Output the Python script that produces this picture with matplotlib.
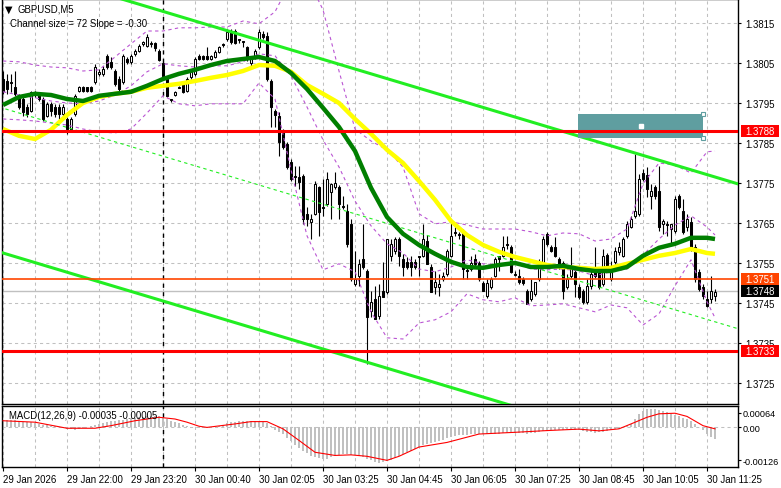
"""
GBPUSD M5 chart in the MetaTrader style: candles, moving averages,
Bollinger bands, regression channel, price levels and MACD panel.
"""

import matplotlib
matplotlib.use("Agg")
import matplotlib.pyplot as plt
from matplotlib.patches import Rectangle
import numpy as np

plt.rcParams["font.family"] = ["Liberation Sans", "DejaVu Sans"]

# ---------------- data ----------------
opens = [
    1.38010, 1.38005, 1.38003, 1.37990, 1.37968, 1.37960, 1.37940, 1.37930, 1.37978, 1.37973,
    1.37960, 1.37918, 1.37948, 1.37940, 1.37940, 1.37923, 1.37910, 1.37885, 1.37923, 1.37980,
    1.37990, 1.37990, 1.37990, 1.38003, 1.38023, 1.38023, 1.38068, 1.38053, 1.38030, 1.38010,
    1.38003, 1.38060, 1.38053, 1.38073, 1.38080, 1.38098, 1.38093, 1.38098, 1.38100, 1.38080,
    1.38050, 1.38010, 1.37960, 1.37970, 1.37990, 1.38000, 1.37980, 1.38015, 1.38023, 1.38068,
    1.38068, 1.38068, 1.38060, 1.38065, 1.38078, 1.38098, 1.38110, 1.38128, 1.38130, 1.38110,
    1.38105, 1.38090, 1.38050, 1.38065, 1.38090, 1.38123, 1.38118, 1.38005, 1.37930, 1.37918,
    1.37878, 1.37848, 1.37803, 1.37768, 1.37765, 1.37768, 1.37673, 1.37653, 1.37673, 1.37740,
    1.37690, 1.37698, 1.37728, 1.37740, 1.37740, 1.37693, 1.37680, 1.37648, 1.37498, 1.37518,
    1.37560, 1.37530, 1.37430, 1.37460, 1.37418, 1.37480, 1.37478, 1.37568, 1.37580, 1.37610,
    1.37560, 1.37553, 1.37553, 1.37553, 1.37568, 1.37568, 1.37605, 1.37540, 1.37490, 1.37490,
    1.37510, 1.37523, 1.37568, 1.37628, 1.37623, 1.37630, 1.37533, 1.37535, 1.37560, 1.37550,
    1.37500, 1.37468, 1.37490, 1.37518, 1.37568, 1.37568, 1.37598, 1.37590, 1.37523, 1.37518,
    1.37510, 1.37480, 1.37460, 1.37473, 1.37510, 1.37548, 1.37623, 1.37590, 1.37590, 1.37560,
    1.37550, 1.37490, 1.37518, 1.37528, 1.37490, 1.37480, 1.37453, 1.37493, 1.37528, 1.37528,
    1.37498, 1.37570, 1.37510, 1.37553, 1.37578, 1.37568, 1.37618, 1.37640, 1.37668, 1.37673,
    1.37775, 1.37770, 1.37718, 1.37740, 1.37730, 1.37648, 1.37648, 1.37635, 1.37630, 1.37718,
    1.37680, 1.37640, 1.37653, 1.37590, 1.37528, 1.37490, 1.37460, 1.37460, 1.37468,
]
highs = [
    1.38030, 1.38023, 1.38023, 1.38030, 1.37973, 1.37965, 1.37948, 1.37980, 1.37980, 1.37978,
    1.37965, 1.37953, 1.37953, 1.37948, 1.37948, 1.37948, 1.37915, 1.37915, 1.37973, 1.37993,
    1.37993, 1.37990, 1.37993, 1.38048, 1.38035, 1.38043, 1.38073, 1.38065, 1.38035, 1.38018,
    1.38073, 1.38065, 1.38073, 1.38085, 1.38098, 1.38105, 1.38123, 1.38105, 1.38103, 1.38085,
    1.38055, 1.38015, 1.37960, 1.37980, 1.37993, 1.38003, 1.38015, 1.38035, 1.38065, 1.38073,
    1.38070, 1.38090, 1.38070, 1.38083, 1.38093, 1.38100, 1.38135, 1.38135, 1.38135, 1.38110,
    1.38105, 1.38093, 1.38065, 1.38085, 1.38135, 1.38130, 1.38128, 1.38010, 1.37935, 1.37928,
    1.37885, 1.37853, 1.37810, 1.37793, 1.37793, 1.37773, 1.37690, 1.37673, 1.37755, 1.37743,
    1.37760, 1.37778, 1.37750, 1.37778, 1.37745, 1.37718, 1.37698, 1.37660, 1.37580, 1.37560,
    1.37648, 1.37535, 1.37480, 1.37493, 1.37498, 1.37553, 1.37610, 1.37610, 1.37615, 1.37615,
    1.37573, 1.37565, 1.37568, 1.37560, 1.37568, 1.37648, 1.37620, 1.37548, 1.37530, 1.37523,
    1.37528, 1.37585, 1.37660, 1.37640, 1.37628, 1.37635, 1.37543, 1.37568, 1.37573, 1.37555,
    1.37505, 1.37510, 1.37515, 1.37565, 1.37568, 1.37618, 1.37618, 1.37595, 1.37530, 1.37535,
    1.37515, 1.37485, 1.37510, 1.37503, 1.37560, 1.37618, 1.37628, 1.37595, 1.37615, 1.37565,
    1.37555, 1.37523, 1.37590, 1.37535, 1.37498, 1.37485, 1.37510, 1.37535, 1.37590, 1.37535,
    1.37585, 1.37575, 1.37555, 1.37590, 1.37603, 1.37615, 1.37655, 1.37668, 1.37823, 1.37773,
    1.37785, 1.37790, 1.37748, 1.37745, 1.37793, 1.37660, 1.37655, 1.37648, 1.37718, 1.37723,
    1.37710, 1.37673, 1.37665, 1.37598, 1.37535, 1.37498, 1.37480, 1.37518, 1.37485,
]
lows = [
    1.37973, 1.37973, 1.37978, 1.37968, 1.37935, 1.37918, 1.37915, 1.37928, 1.37965, 1.37955,
    1.37905, 1.37915, 1.37918, 1.37915, 1.37910, 1.37915, 1.37873, 1.37880, 1.37918, 1.37978,
    1.37978, 1.37978, 1.37978, 1.37998, 1.38018, 1.38018, 1.38035, 1.38035, 1.37993, 1.37980,
    1.37998, 1.38048, 1.38048, 1.38068, 1.38078, 1.38093, 1.38090, 1.38090, 1.38080, 1.38055,
    1.38015, 1.37965, 1.37953, 1.37968, 1.37988, 1.37975, 1.37978, 1.38010, 1.38018, 1.38058,
    1.38058, 1.38058, 1.38058, 1.38063, 1.38075, 1.38090, 1.38105, 1.38098, 1.38098, 1.38100,
    1.38090, 1.38055, 1.38040, 1.38060, 1.38085, 1.38110, 1.38005, 1.37890, 1.37890, 1.37818,
    1.37835, 1.37785, 1.37755, 1.37743, 1.37735, 1.37648, 1.37643, 1.37610, 1.37670, 1.37618,
    1.37668, 1.37693, 1.37660, 1.37735, 1.37660, 1.37685, 1.37590, 1.37505, 1.37493, 1.37493,
    1.37535, 1.37297, 1.37415, 1.37410, 1.37410, 1.37468, 1.37473, 1.37555, 1.37573, 1.37543,
    1.37518, 1.37535, 1.37518, 1.37535, 1.37518, 1.37565, 1.37548, 1.37478, 1.37473, 1.37468,
    1.37505, 1.37518, 1.37565, 1.37618, 1.37610, 1.37510, 1.37510, 1.37530, 1.37543, 1.37505,
    1.37480, 1.37463, 1.37485, 1.37515, 1.37530, 1.37565, 1.37585, 1.37525, 1.37518, 1.37498,
    1.37495, 1.37448, 1.37455, 1.37468, 1.37505, 1.37543, 1.37593, 1.37578, 1.37565, 1.37535,
    1.37460, 1.37485, 1.37513, 1.37465, 1.37460, 1.37448, 1.37448, 1.37485, 1.37513, 1.37485,
    1.37493, 1.37530, 1.37505, 1.37548, 1.37570, 1.37565, 1.37613, 1.37638, 1.37663, 1.37668,
    1.37755, 1.37715, 1.37685, 1.37710, 1.37630, 1.37623, 1.37618, 1.37598, 1.37625, 1.37685,
    1.37623, 1.37630, 1.37580, 1.37503, 1.37480, 1.37460, 1.37440, 1.37450, 1.37455,
]
closes = [
    1.37980, 1.37985, 1.38000, 1.37973, 1.37940, 1.37928, 1.37923, 1.37978, 1.37975, 1.37960,
    1.37910, 1.37948, 1.37930, 1.37923, 1.37923, 1.37940, 1.37885, 1.37910, 1.37968, 1.37990,
    1.37980, 1.37980, 1.37980, 1.38040, 1.38028, 1.38035, 1.38040, 1.38040, 1.37998, 1.37985,
    1.38068, 1.38053, 1.38068, 1.38080, 1.38093, 1.38103, 1.38115, 1.38100, 1.38088, 1.38058,
    1.38018, 1.37968, 1.37958, 1.37978, 1.37988, 1.37978, 1.38010, 1.38030, 1.38060, 1.38060,
    1.38060, 1.38060, 1.38068, 1.38078, 1.38090, 1.38095, 1.38128, 1.38103, 1.38100, 1.38108,
    1.38103, 1.38060, 1.38060, 1.38080, 1.38128, 1.38115, 1.38010, 1.37940, 1.37920, 1.37853,
    1.37840, 1.37790, 1.37760, 1.37765, 1.37753, 1.37660, 1.37660, 1.37660, 1.37748, 1.37678,
    1.37688, 1.37760, 1.37748, 1.37750, 1.37698, 1.37690, 1.37598, 1.37510, 1.37510, 1.37548,
    1.37540, 1.37415, 1.37453, 1.37410, 1.37468, 1.37465, 1.37610, 1.37598, 1.37610, 1.37568,
    1.37540, 1.37540, 1.37540, 1.37540, 1.37565, 1.37610, 1.37548, 1.37478, 1.37503, 1.37498,
    1.37518, 1.37580, 1.37618, 1.37625, 1.37620, 1.37535, 1.37530, 1.37550, 1.37548, 1.37510,
    1.37480, 1.37500, 1.37510, 1.37560, 1.37560, 1.37590, 1.37595, 1.37528, 1.37520, 1.37503,
    1.37500, 1.37448, 1.37480, 1.37503, 1.37540, 1.37610, 1.37598, 1.37580, 1.37568, 1.37540,
    1.37480, 1.37510, 1.37540, 1.37498, 1.37465, 1.37453, 1.37493, 1.37523, 1.37518, 1.37490,
    1.37568, 1.37535, 1.37540, 1.37580, 1.37590, 1.37610, 1.37648, 1.37660, 1.37680, 1.37760,
    1.37760, 1.37735, 1.37730, 1.37718, 1.37640, 1.37655, 1.37645, 1.37648, 1.37710, 1.37690,
    1.37628, 1.37660, 1.37585, 1.37510, 1.37485, 1.37468, 1.37443, 1.37480, 1.37478,
]

# indicator lines, read every 4 bars (bar index -> price)
ind_bars = list(range(0, 177, 4)) + [178]
ma_green = [
    1.37945, 1.37965, 1.37973, 1.37970, 1.37960, 1.37955, 1.37968, 1.37973, 1.37978, 1.37993,
    1.38010, 1.38023, 1.38033, 1.38045, 1.38055, 1.38060, 1.38065, 1.38055, 1.38025, 1.37985,
    1.37938, 1.37890, 1.37830, 1.37738, 1.37665, 1.37623, 1.37595, 1.37573, 1.37553, 1.37540,
    1.37538, 1.37545, 1.37550, 1.37540, 1.37540, 1.37543, 1.37535, 1.37530, 1.37530, 1.37540,
    1.37568, 1.37588, 1.37598, 1.37613, 1.37613, 1.37610,
]
ma_yellow = [
    1.37885, 1.37868, 1.37860, 1.37883, 1.37920, 1.37950, 1.37965, 1.37973, 1.37978, 1.37988,
    1.37993, 1.37998, 1.38005, 1.38013, 1.38020, 1.38030, 1.38045, 1.38043, 1.38028, 1.37995,
    1.37973, 1.37950, 1.37910, 1.37873, 1.37833, 1.37800, 1.37755, 1.37708, 1.37655, 1.37620,
    1.37595, 1.37578, 1.37565, 1.37555, 1.37545, 1.37540, 1.37538, 1.37535, 1.37538, 1.37548,
    1.37558, 1.37568, 1.37575, 1.37585, 1.37575, 1.37573,
]
band_upper = [
    1.38055, 1.38053, 1.38045, 1.38040, 1.38038, 1.38030, 1.38033, 1.38065, 1.38098, 1.38130,
    1.38130, 1.38138, 1.38138, 1.38140, 1.38140, 1.38155, 1.38148, 1.38178, 1.38255, 1.38265,
    1.38183, 1.38030, 1.37885, 1.37855, 1.37833, 1.37790, 1.37673, 1.37648, 1.37653, 1.37645,
    1.37635, 1.37635, 1.37635, 1.37628, 1.37618, 1.37625, 1.37623, 1.37605, 1.37610, 1.37635,
    1.37748, 1.37800, 1.37795, 1.37775, 1.37828, 1.37830,
]
band_middle = [
    1.37978, 1.37970, 1.37963, 1.37955, 1.37950, 1.37948, 1.37955, 1.37970, 1.37993, 1.38028,
    1.38048, 1.38043, 1.38040, 1.38043, 1.38043, 1.38053, 1.38073, 1.38068, 1.38018, 1.37940,
    1.37858, 1.37790, 1.37705, 1.37643, 1.37598, 1.37575, 1.37535, 1.37528, 1.37540, 1.37558,
    1.37548, 1.37545, 1.37550, 1.37535, 1.37533, 1.37535, 1.37530, 1.37518, 1.37528, 1.37535,
    1.37570, 1.37610, 1.37645, 1.37668, 1.37640, 1.37620,
]
band_lower = [
    1.37910, 1.37908, 1.37905, 1.37900, 1.37895, 1.37885, 1.37878, 1.37875, 1.37885, 1.37925,
    1.37968, 1.37948, 1.37943, 1.37948, 1.37948, 1.37948, 1.38000, 1.37960, 1.37783, 1.37618,
    1.37533, 1.37548, 1.37528, 1.37428, 1.37363, 1.37360, 1.37400, 1.37408, 1.37428, 1.37473,
    1.37458, 1.37453, 1.37463, 1.37443, 1.37445, 1.37448, 1.37438, 1.37428, 1.37445, 1.37438,
    1.37395, 1.37423, 1.37493, 1.37558, 1.37453, 1.37413,
]

# regression channel: middle at bar 0, slope per bar, half width
chan_mid0 = 1.37937
chan_slope = -0.00003
chan_half = 0.00362

# horizontal levels
level_res = 1.3788
level_sup = 1.3733
level_mid = 1.3751
level_bid = 1.3748

# MACD(12,26,9), in units of 1e-5
macd_hist = [
    27, 27, 26, 24, 23, 20, 19, 18, 14, 12, 9, 7, 5, 4, 2, -3, -5, -7, -8, -6,
    -2, 3, 6, 9, 12, 15, 18, 21, 23, 25, 27, 29, 31, 33, 35, 37, 39, 41, 41, 40,
    32, 29, 22, 18, 14, 8, 4, 2, 0, -2, -3, -2, -1, 0, 6, 10, 14, 18, 20, 22,
    23, 23, 22, 21, 20, 18, 14, 6, -8, -15, -22, -38, -48, -60, -70, -80, -90, -100, -104, -107,
    -109, -108, -104, -98, -94, -92, -93, -95, -97, -100, -103, -108, -114, -119, -122, -120, -116, -112, -106, -100,
    -92, -85, -80, -74, -68, -62, -57, -53, -50, -46, -42, -38, -34, -30, -27, -26, -25, -24, -22, -22,
    -22, -23, -24, -23, -22, -20, -18, -18, -19, -20, -21, -22, -21, -19, -16, -13, -11, -10, -10, -9,
    -8, -7, -7, -8, -10, -13, -15, -17, -18, -17, -15, -13, -10, -7, -4, -1, 6, 12, 30, 45,
    55, 62, 64, 64, 60, 56, 52, 47, 43, 38, 33, 28, 22, 12, 2, -10, -22, -32, -40,
]
sig_bars = [0, 8, 16, 23, 27, 33, 39, 43, 46, 49, 51, 58, 62, 66, 70, 74, 78, 83, 87,
            91, 96, 99, 104, 111, 119, 128, 136, 144, 149, 154, 157, 161, 164, 168, 171, 175, 178]
sig_vals = [23, 18, -3, -3, 6, 23, 35, 29, 18, 4, 0, 12, 20, 20, -5, -45, -86, -97, -95,
            -100, -114, -100, -68, -52, -23, -17, -11, -6, -12, -5, 12, 35, 47, 49, 38, 6, -5]

price_ticks = [1.3725, 1.3735, 1.3745, 1.3755, 1.3765, 1.3775, 1.3785, 1.3795, 1.3805, 1.3815]
time_labels = ["29 Jan 2026", "29 Jan 22:00", "29 Jan 23:20", "30 Jan 00:40",
               "30 Jan 02:05", "30 Jan 03:25", "30 Jan 04:45", "30 Jan 06:05",
               "30 Jan 07:25", "30 Jan 08:45", "30 Jan 10:05", "30 Jan 11:25"]

# ---------------- layout ----------------
W, H = 781, 489
FS = 6.9


def px_box(x0, y0, x1, y1):
    """pixel box -> figure fraction rect"""
    return [x0 / W, 1 - y1 / H, (x1 - x0) / W, (y1 - y0) / H]


fig = plt.figure(figsize=(W / 100, H / 100), dpi=100)
ax = fig.add_axes(px_box(2, 0, 738, 405))
axm = fig.add_axes(px_box(2, 407, 738, 468))

xlim = (-0.25, 183.75)
grid_kw = dict(color="#c0c0c0", lw=0.75, ls=(0, (3, 3)), zorder=0)

for a in (ax, axm):
    a.set_xlim(*xlim)
    for s in a.spines.values():
        s.set_linewidth(1.0)
        s.set_color("black")
    for gx in range(0, 184, 8):
        a.axvline(gx, **grid_kw)
    # day separator
    a.axvline(40, color="black", lw=1.0, ls=(0, (3, 3)), zorder=1)

# ---------------- main panel ----------------
ax.set_ylim(1.371975, 1.3821)
for p in price_ticks:
    ax.axhline(p, **grid_kw)

o, hi, lo, c = map(np.array, (opens, highs, lows, closes))
bars = np.arange(len(c))
up = c >= o
body_lo = np.minimum(o, c)
body_h = np.maximum(np.abs(c - o), 0.00001)
ax.vlines(bars, lo, hi, color="black", lw=0.8, zorder=3)
ax.bar(bars[up], body_h[up], bottom=body_lo[up], width=0.55,
       color="white", edgecolor="black", lw=0.75, zorder=4)
ax.bar(bars[~up], body_h[~up], bottom=body_lo[~up], width=0.55,
       color="black", edgecolor="black", lw=0.75, zorder=4)

# bollinger bands
band_kw = dict(color="#ba55d3", lw=0.8, ls=(0, (3, 3)), zorder=5)
for band in (band_upper, band_middle, band_lower):
    ax.plot(ind_bars, band, **band_kw)

# moving averages
ax.plot(ind_bars, ma_yellow, color="#ffff00", lw=3.2, solid_capstyle="butt", zorder=6)
ax.plot(ind_bars, ma_green, color="#007f00", lw=3.2, solid_capstyle="butt", zorder=7)

# regression channel
cx = np.array([-2, 186])
cmid = chan_mid0 + chan_slope * cx
ax.plot(cx, cmid + chan_half, color="#22ee22", lw=2.2, zorder=6)
ax.plot(cx, cmid - chan_half, color="#22ee22", lw=2.2, zorder=6)
ax.plot(cx, cmid, color="#22ee22", lw=0.8, ls=(0, (3, 3)), zorder=6)

# target rectangle (drawn under the level lines)
rect_x0, rect_x1 = 143.75, 175.0
rect_top, rect_bot = 1.37923, 1.37863
ax.add_patch(Rectangle((rect_x0, rect_bot), rect_x1 - rect_x0, rect_top - rect_bot,
                       facecolor="#5f9ea0", edgecolor="none", zorder=8))
for hx, hy in [(rect_x1, rect_top), (rect_x1, rect_bot)]:
    ax.plot(hx, hy, marker="s", ms=3.2, mfc="white", mec="#5f9ea0", mew=0.8, zorder=12)
ax.plot((rect_x0 + rect_x1) / 2, (rect_top + rect_bot) / 2, marker="s", ms=2.2,
        mfc="white", mec="white", zorder=12)

# horizontal levels
ax.axhline(level_bid, color="#c0c0c0", lw=1.0, zorder=2)
ax.axhline(level_mid, color="#ff4500", lw=1.2, zorder=10)
ax.axhline(level_res, color="#ff0000", lw=2.2, zorder=10)
ax.axhline(level_sup, color="#ff0000", lw=2.2, zorder=10)

# right price axis
ax.yaxis.tick_right()
ax.set_yticks(price_ticks)
ax.set_yticklabels([f"{p:.4f}" for p in price_ticks], fontsize=FS)
ax.tick_params(axis="y", length=2.5, width=0.8, pad=2.5)
ax.set_xticks([])

ytr = ax.get_yaxis_transform()


def price_tag(p, fc):
    ax.add_patch(Rectangle((1.004, p - 0.00014), 0.0516, 0.00028, transform=ytr,
                           facecolor=fc, edgecolor="none", clip_on=False, zorder=20))
    ax.text(1.0095, p, f"{p:.4f}", transform=ytr, color="white", fontsize=FS,
            va="center", ha="left", clip_on=False, zorder=21)


price_tag(level_res, "#ff0000")
price_tag(level_mid, "#ff4500")
price_tag(level_bid, "#000000")
price_tag(level_sup, "#ff0000")

# header
fig.text(5 / W, 1 - 10 / H, "▼", fontsize=7, family="DejaVu Sans", va="center")
fig.text(18 / W, 1 - 10 / H, "GBPUSD,M5", fontsize=FS, va="center")
fig.text(10 / W, 1 - 24 / H, "Channel size = 72 Slope = -0.30", fontsize=FS, va="center")

# ---------------- MACD panel ----------------
axm.set_ylim(-137, 74)
axm.axhline(0, **grid_kw)
axm.bar(bars, macd_hist, width=0.6, color="#c0c0c0", zorder=2)
axm.plot(sig_bars, sig_vals, color="#ff0000", lw=0.8, zorder=3)
axm.text(7 / 736, 1 - 9 / 61, "MACD(12,26,9) -0.00035 -0.00005", transform=axm.transAxes,
         fontsize=FS, va="center", ha="left")

axm.yaxis.tick_right()
axm.set_yticks([50, 0, -113])
axm.set_yticklabels(["0.00064", "0.00", "-0.00126"], fontsize=6.6)
axm.tick_params(axis="y", length=2.5, width=0.8, pad=1.0)

tick_bars = list(range(0, 177, 16))
axm.set_xticks(tick_bars)
axm.set_xticklabels(time_labels, fontsize=FS, ha="left")
axm.tick_params(axis="x", length=3, width=0.8, pad=2)

fig.savefig("out.png", dpi=100)
